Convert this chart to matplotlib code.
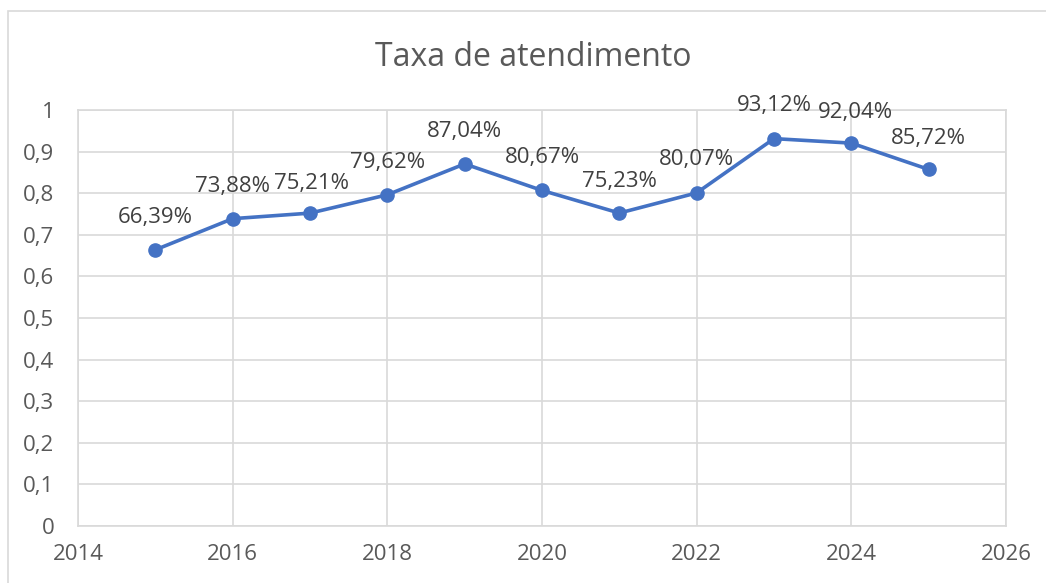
import matplotlib
matplotlib.use("Agg")
import matplotlib.pyplot as plt
from matplotlib.patches import Rectangle

years = [2015, 2016, 2017, 2018, 2019, 2020, 2021, 2022, 2023, 2024, 2025]
rates = [0.6639, 0.7388, 0.7521, 0.7962, 0.8704, 0.8067, 0.7523, 0.8007, 0.9312, 0.9204, 0.8572]
title = "Taxa de atendimento"
x_ticks = [2014, 2016, 2018, 2020, 2022, 2024, 2026]
y_ticks = [0, 0.1, 0.2, 0.3, 0.4, 0.5, 0.6, 0.7, 0.8, 0.9, 1.0]

# label offsets in points (dx, dy)
label_offsets = [(0, 23), (0, 23), (1, 21), (0, 23), (0, 23), (0, 24), (0, 23), (0, 24), (0, 24), (3, 22), (0, 22)]

plt.rcParams['font.family'] = ['Open Sans', 'DejaVu Sans']
grid_c = '#d9d9d9'
text_c = '#595959'
line_c = '#4472C4'

fig = plt.figure(figsize=(10.46, 5.83), dpi=100)
fig.patches.append(Rectangle((8/1046, -0.1), 1.2, 1 - 11/583 + 0.1, transform=fig.transFigure,
                             fill=False, edgecolor=grid_c, linewidth=1.2))
ax = fig.add_axes([78/1046, 1 - 526/583, (1006 - 78)/1046, (526 - 110)/583])

ax.plot(years, rates, color=line_c, linewidth=2.6, marker='o', markersize=9.5,
        markerfacecolor=line_c, markeredgecolor=line_c, zorder=3)

for x, y, (dx, dy) in zip(years, rates, label_offsets):
    lbl = f"{y*100:.2f}%".replace('.', ',')
    ax.annotate(lbl, (x, y), xytext=(dx, dy), textcoords='offset points',
                ha='center', va='center', fontsize=16, color='#404040')

ax.set_xlim(2014, 2026)
ax.set_ylim(0, 1)
ax.set_xticks(x_ticks)
ax.set_yticks(y_ticks)
ax.set_xticklabels([str(t) for t in x_ticks])
ax.set_yticklabels([f"{t:g}".replace('.', ',') for t in y_ticks])
ax.grid(True, color=grid_c, linewidth=1.2)
ax.set_axisbelow(True)
for s in ax.spines.values():
    s.set_color(grid_c)
    s.set_linewidth(1.2)
ax.tick_params(length=0, labelsize=16, colors=text_c)
ax.tick_params(axis='y', pad=17)
ax.tick_params(axis='x', pad=13)

fig.text(533/1046, 1 - 57/583, title, ha='center', va='center', fontsize=23, color=text_c)

fig.savefig("out.png", dpi=100)
